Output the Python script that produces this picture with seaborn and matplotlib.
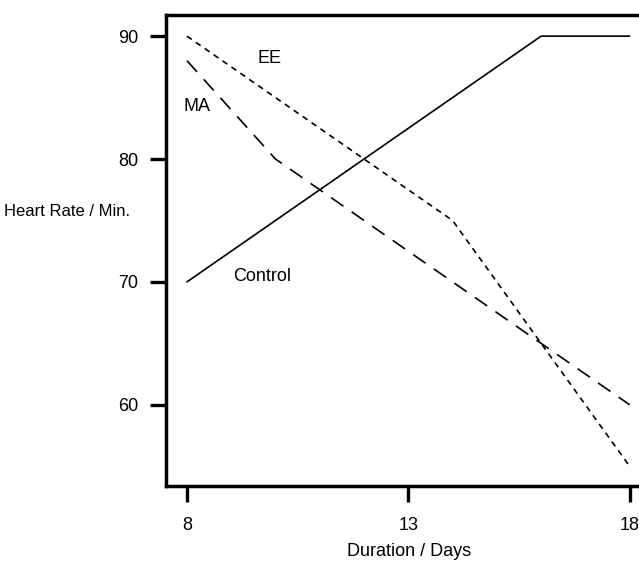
import seaborn as sns
import matplotlib.pyplot as plt
import matplotlib.font_manager as fm
import pandas as pd

# values
days = [8, 10, 12, 14, 16, 18]
control = [70, 75, 80, 85, 90, 90]
ee = [90, 85, 80, 75, 65, 55]
ma = [88, 80, 75, 70, 65, 60]
x_ticks = [8, 13, 18]
y_ticks = [60, 70, 80, 90]

df = pd.DataFrame({
    "day": days * 3,
    "rate": control + ee + ma,
    "group": ["Control"] * 6 + ["EE"] * 6 + ["MA"] * 6,
})

sns.set_style("white")
# narrow font if there is one, the original text is quite condensed
names = {f.name for f in fm.fontManager.ttflist}
if "Liberation Sans Narrow" in names:
    family, fs, fs_lab = "Liberation Sans Narrow", 16, 15
else:
    family, fs, fs_lab = "Liberation Sans", 13, 12
plt.rcParams["font.family"] = [family, "DejaVu Sans"]
plt.rcParams["text.color"] = "black"
plt.rcParams["axes.labelcolor"] = "black"

fig = plt.figure(figsize=(6.39, 5.65), dpi=100)
ax = fig.add_axes([0.26, 0.14, 0.76, 0.833])

sns.lineplot(data=df, x="day", y="rate", style="group", color="black",
             dashes={"Control": "", "EE": (3.5, 3), "MA": (9, 6)},
             linewidth=1.2, legend=False, ax=ax)

ax.set_xlim(7.53, 18.5)
ax.set_ylim(53.4, 91.7)
ax.set_xticks(x_ticks)
ax.set_yticks(y_ticks)
ax.tick_params(axis="both", bottom=True, left=True, direction="out",
               length=11.5, width=2.4, labelsize=fs, colors="black")
ax.tick_params(axis="x", pad=11)
ax.tick_params(axis="y", pad=8.5)
for s in ax.spines.values():
    s.set_linewidth(2.5)
    s.set_color("black")

ax.set_xlabel("Duration / Days", fontsize=fs)
ax.xaxis.set_label_coords(0.5, -0.122)
ax.set_ylabel("Heart Rate / Min.", fontsize=fs_lab, rotation=0, ha="right", va="center")
ax.yaxis.set_label_coords(-0.075, 0.582)

ax.text(9.87, 88.2, "EE", fontsize=fs, ha="center", va="center")
ax.text(8.23, 84.3, "MA", fontsize=fs, ha="center", va="center")
ax.text(9.69, 70.4, "Control", fontsize=fs, ha="center", va="center")

fig.savefig("out.png", dpi=100)
